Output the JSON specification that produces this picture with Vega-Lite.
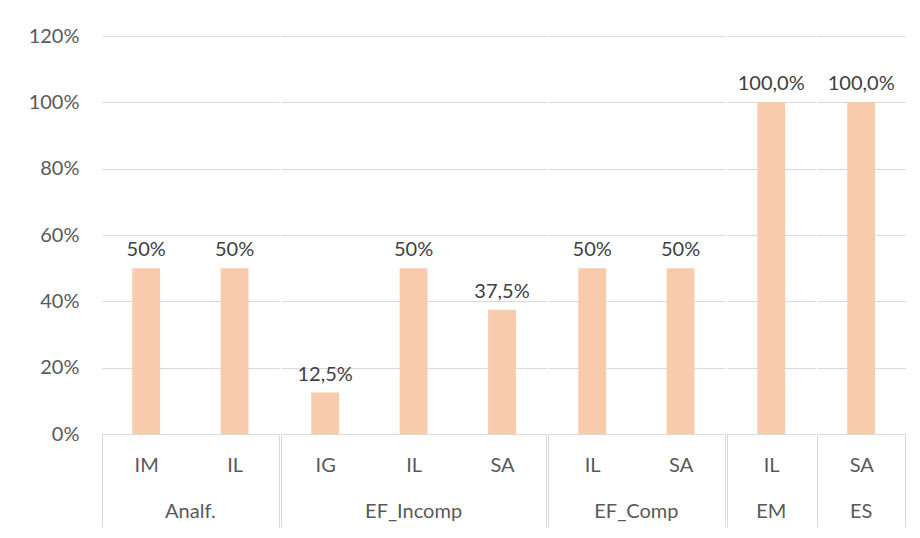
{
  "$schema": "https://vega.github.io/schema/vega-lite/v6.json",
  "background": "white",
  "padding": {"left": 28, "top": 26, "right": 10, "bottom": 5},
  "data": {
    "values": [
      {"group": "Analf.", "sub": "IM", "value": 0.5, "label": "50%"},
      {"group": "Analf.", "sub": "IL", "value": 0.5, "label": "50%"},
      {"group": "EF_Incomp", "sub": "IG", "value": 0.125, "label": "12,5%"},
      {"group": "EF_Incomp", "sub": "IL", "value": 0.5, "label": "50%"},
      {"group": "EF_Incomp", "sub": "SA", "value": 0.375, "label": "37,5%"},
      {"group": "EF_Comp", "sub": "IL", "value": 0.5, "label": "50%"},
      {"group": "EF_Comp", "sub": "SA", "value": 0.5, "label": "50%"},
      {"group": "EM", "sub": "IL", "value": 1.0, "label": "100,0%"},
      {"group": "ES", "sub": "SA", "value": 1.0, "label": "100,0%"}
    ]
  },
  "facet": {
    "column": {
      "field": "group",
      "type": "nominal",
      "sort": ["Analf.", "EF_Incomp", "EF_Comp", "EM", "ES"],
      "header": {
        "title": null,
        "labelOrient": "bottom",
        "labelFont": "Lato",
        "labelFontSize": 20,
        "labelColor": "#595959",
        "labelPadding": -26
      }
    }
  },
  "spacing": 0,
  "resolve": {"scale": {"x": "independent"}},
  "spec": {
    "width": {"step": 88.4},
    "height": 398,
    "encoding": {
      "x": {
        "field": "sub",
        "type": "nominal",
        "sort": ["IM", "IG", "IL", "SA"],
        "scale": {"paddingInner": 0, "paddingOuter": 0},
        "axis": {
          "title": null,
          "labelAngle": 0,
          "labelPadding": -72,
          "tickBand": "extent",
          "tickSize": 93,
          "tickColor": "#D9D9D9",
          "tickOpacity": {
            "condition": {"test": "datum.index < 0 || datum.index >= 1 || datum.value === 'SA'", "value": 1},
            "value": 0
          },
          "domainColor": "#D9D9D9"
        }
      },
      "y": {
        "field": "value",
        "type": "quantitative",
        "scale": {"domain": [0, 1.2]},
        "axis": {
          "title": null,
          "format": ".0%",
          "values": [0, 0.2, 0.4, 0.6, 0.8, 1.0, 1.2],
          "domain": false,
          "ticks": false,
          "labelPadding": 22,
          "gridColor": "#D9D9D9"
        }
      }
    },
    "layer": [
      {
        "mark": {"type": "bar", "color": "#F8CBAD", "width": {"band": 0.315}}
      },
      {
        "mark": {"type": "text", "baseline": "bottom", "dy": -8, "font": "Lato", "fontSize": 20, "color": "#404040"},
        "encoding": {"text": {"field": "label"}}
      }
    ]
  },
  "config": {
    "view": {"stroke": null},
    "axis": {"labelFont": "Lato", "labelFontSize": 20, "labelColor": "#595959"}
  }
}
